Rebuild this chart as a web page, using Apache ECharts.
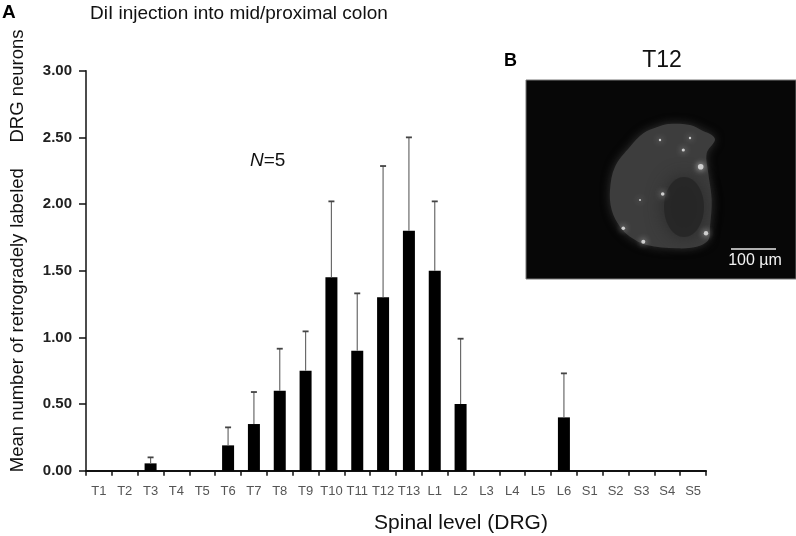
<!DOCTYPE html>
<html>
<head>
<meta charset="utf-8">
<title>DiI injection into mid/proximal colon</title>
<script src="https://cdn.jsdelivr.net/npm/echarts@6/dist/echarts.min.js"></script>
<style>
  html, body { margin: 0; padding: 0; background: #fff; }
  #chart { width: 796px; height: 536px; }
</style>
</head>
<body>
<div id="chart"></div>
<script>
// spinal levels (DRG) on the x axis
const levels = ['T1', 'T2', 'T3', 'T4', 'T5', 'T6', 'T7', 'T8', 'T9', 'T10', 'T11', 'T12', 'T13',
  'L1', 'L2', 'L3', 'L4', 'L5', 'L6', 'S1', 'S2', 'S3', 'S4', 'S5']
// mean number of labeled neurons per level
const meanCounts = [0, 0, 0.055, 0, 0, 0.19, 0.35, 0.60, 0.75, 1.45, 0.90, 1.30, 1.80,
  1.50, 0.50, 0, 0, 0, 0.40, 0, 0, 0, 0, 0]
// upper error (SEM) per level
const semCounts = [0, 0, 0.045, 0, 0, 0.135, 0.24, 0.315, 0.295, 0.57, 0.43, 0.985, 0.70,
  0.52, 0.49, 0, 0, 0, 0.33, 0, 0, 0, 0, 0]
const yMin = 0
const yMax = 3
const yStep = 0.5

const FONT = 'Liberation Sans, Arial, Helvetica, sans-serif'

let errorData = levels.map((name, i) => [i, meanCounts[i], semCounts[i]])

// upward-only error bars with a small cap
const renderErrorBar = (params, api) => {
  let sem = api.value(2)
  if (!sem) return null
  let mean = api.value(1)
  let base = api.coord([api.value(0), mean])
  let top = api.coord([api.value(0), mean + sem])
  let capHalf = 3
  return {
    type: 'group',
    children: [
      {
        type: 'line',
        shape: { x1: base[0], y1: base[1], x2: top[0], y2: top[1] },
        style: { stroke: '#6a6a6a', lineWidth: 1.2 }
      },
      {
        type: 'line',
        shape: { x1: top[0] - capHalf, y1: top[1], x2: top[0] + capHalf, y2: top[1] },
        style: { stroke: '#444', lineWidth: 1.8 }
      }
    ]
  }
}

// inset panel B: a rough sketch of the DRG neuron micrograph
const blobOutline = [
  [656.7, 127.3], [668, 124], [690, 125], [703, 131], [711.7, 135], [715, 140], [706.7, 153.3],
  [708.3, 173.3], [711.7, 200], [710, 226.7], [708.3, 240], [696.7, 246.7], [676.7, 248.3],
  [646.7, 245], [630, 236.7], [620, 226.7], [611.7, 210], [610, 190], [615, 166.7],
  [630, 146.7], [643.3, 133.3]
]
const brightSpots = [
  [700.7, 166.7, 2.8], [662.7, 194, 1.8], [706, 233.3, 2.2], [643.3, 241.7, 2],
  [623.3, 228.3, 1.8], [683.3, 150, 1.6], [660, 140, 1.2], [640, 200, 1], [690, 138, 1.2]
]

let insetGraphics = [
  {
    type: 'rect',
    shape: { x: 526, y: 80, width: 270, height: 199 },
    style: { fill: '#070707', stroke: '#777', lineWidth: 1 }
  },
  {
    type: 'polygon',
    shape: { points: blobOutline, smooth: 0.35 },
    style: { fill: '#3d3d3d', shadowBlur: 10, shadowColor: '#333' }
  },
  {
    type: 'ellipse',
    shape: { cx: 684, cy: 207, rx: 20, ry: 30 },
    style: { fill: '#262626', opacity: 0.85, shadowBlur: 18, shadowColor: '#262626' }
  }
].concat(brightSpots.map((s) => ({
  type: 'circle',
  shape: { cx: s[0], cy: s[1], r: s[2] },
  style: { fill: '#cfcfcf', shadowBlur: 6, shadowColor: '#ffffff' }
}))).concat([
  {
    type: 'line',
    shape: { x1: 731, y1: 249, x2: 776, y2: 249 },
    style: { stroke: '#e8e8e8', lineWidth: 1.5 }
  },
  {
    type: 'text', x: 755, y: 261,
    style: { text: '100 µm', fill: '#f2f2f2', font: '16px ' + FONT, align: 'center', verticalAlign: 'middle' }
  }
])

let labelGraphics = [
  {
    type: 'text', x: 2, y: 13,
    style: { text: 'A', fill: '#000', font: 'bold 19px ' + FONT, verticalAlign: 'middle' }
  },
  {
    type: 'text', x: 90, y: 14,
    style: { text: 'DiI injection into mid/proximal colon', fill: '#111', font: '19px ' + FONT, verticalAlign: 'middle' }
  },
  {
    type: 'text', x: 18, y: 353, rotation: Math.PI / 2,
    style: { text: 'Mean number of retrogradely', fill: '#111', font: '18.5px ' + FONT, align: 'center', verticalAlign: 'middle' }
  },
  {
    type: 'text', x: 18, y: 198, rotation: Math.PI / 2,
    style: { text: 'labeled', fill: '#111', font: '18.5px ' + FONT, align: 'center', verticalAlign: 'middle' }
  },
  {
    type: 'text', x: 18, y: 86, rotation: Math.PI / 2,
    style: { text: 'DRG neurons', fill: '#111', font: '18.5px ' + FONT, align: 'center', verticalAlign: 'middle' }
  },
  {
    type: 'text', x: 250, y: 161,
    style: {
      text: '{i|N}=5',
      font: '19px ' + FONT,
      fill: '#111',
      verticalAlign: 'middle',
      rich: { i: { fontStyle: 'italic', fontSize: 19, fontFamily: FONT, fill: '#111' } }
    }
  },
  {
    type: 'text', x: 461, y: 523,
    style: { text: 'Spinal level (DRG)', fill: '#111', font: '21px ' + FONT, align: 'center', verticalAlign: 'middle' }
  },
  {
    type: 'text', x: 504, y: 61,
    style: { text: 'B', fill: '#000', font: 'bold 18px ' + FONT, verticalAlign: 'middle' }
  },
  {
    type: 'text', x: 662, y: 61,
    style: { text: 'T12', fill: '#111', font: '23px ' + FONT, align: 'center', verticalAlign: 'middle' }
  }
]

let chart = echarts.init(document.getElementById('chart'), null, { renderer: 'canvas' })

let options = {
  backgroundColor: '#fff',
  animation: false,
  grid: { left: 86, right: 90, top: 70.7, bottom: 65.3 },
  xAxis: {
    type: 'category',
    data: levels,
    boundaryGap: true,
    axisLine: { lineStyle: { color: '#111', width: 2 } },
    axisTick: { show: true, length: 5, lineStyle: { color: '#111', width: 1.5 } },
    axisLabel: { color: '#555', fontSize: 13, fontFamily: FONT, margin: 14, interval: 0 },
    splitLine: { show: false }
  },
  yAxis: {
    type: 'value',
    min: yMin,
    max: yMax,
    interval: yStep,
    axisLine: { show: true, lineStyle: { color: '#111', width: 1.5 } },
    axisTick: { show: true, length: 7, lineStyle: { color: '#111', width: 1.5 } },
    axisLabel: {
      color: '#222', fontSize: 15, fontWeight: 'bold', fontFamily: FONT, margin: 14,
      formatter: (v) => v.toFixed(2)
    },
    splitLine: { show: false }
  },
  series: [
    {
      type: 'bar',
      data: meanCounts,
      barWidth: 12,
      itemStyle: { color: '#000' },
      z: 2
    },
    {
      type: 'custom',
      data: errorData,
      renderItem: renderErrorBar,
      encode: { x: 0, y: 1 },
      z: 3
    }
  ],
  graphic: insetGraphics.concat(labelGraphics)
}

chart.setOption(options)
</script>
</body>
</html>
